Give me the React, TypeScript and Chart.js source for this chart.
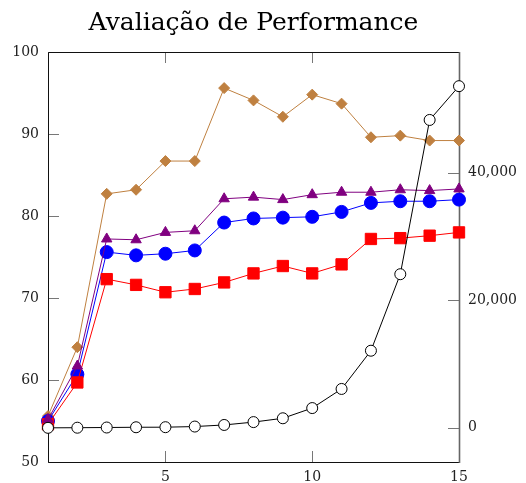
import React, { useEffect, useRef } from 'react';
import { Chart, registerables } from 'chart.js';

Chart.register(...registerables);

const TITLE = 'Avaliação de Performance';
const xValues = [1, 2, 3, 4, 5, 6, 7, 8, 9, 10, 11, 12, 13, 14, 15];
const blueValues = [55.0, 60.7, 75.6, 75.2, 75.4, 75.8, 79.2, 79.7, 79.8, 79.9, 80.5, 81.6, 81.8, 81.8, 82.0];
const redValues = [54.6, 59.7, 72.3, 71.6, 70.7, 71.1, 71.9, 73.0, 73.9, 73.0, 74.1, 77.2, 77.3, 77.6, 78.0];
const purpleValues = [55.2, 61.7, 77.2, 77.1, 78.0, 78.2, 82.1, 82.3, 82.0, 82.6, 82.9, 82.9, 83.2, 83.1, 83.3];
const brownValues = [55.6, 64.0, 82.7, 83.2, 86.7, 86.7, 95.6, 94.1, 92.1, 94.8, 93.7, 89.6, 89.8, 89.2, 89.2];
const blackValues = [0, 20, 50, 90, 100, 200, 450, 900, 1500, 3100, 6100, 12100, 24100, 48300, 53600];

const xTicks = [5, 10, 15];
const leftTicks = [50, 60, 70, 80, 90, 100];
const rightTicks = [0, 20000, 40000];
const xMin = 1;
const xMax = 15;
const leftMin = 50;
const leftMax = 100;
const rightMin = -5360;
const rightMax = 58960;

const SERIF = '"DejaVu Serif", serif';

const toPoints = (ys: number[]) => xValues.map((x, i) => ({ x, y: ys[i] }));

const titlePlugin = {
  id: 'centeredTitle',
  afterDraw(chart: any) {
    const { ctx, chartArea } = chart;
    ctx.save();
    ctx.fillStyle = '#000';
    ctx.font = `25px ${SERIF}`;
    ctx.textAlign = 'center';
    ctx.textBaseline = 'alphabetic';
    ctx.fillText(TITLE, (chartArea.left + chartArea.right) / 2, 30);
    ctx.restore();
  },
};

const framePlugin = {
  id: 'frame',
  beforeDatasetsDraw(chart: any) {
    const { ctx, chartArea, scales } = chart;
    const { left, right, top, bottom } = chartArea;
    const tl = 11;
    ctx.save();
    ctx.lineWidth = 1;
    ctx.beginPath();
    scales.x.ticks.forEach((t: any) => {
      const px = Math.round(scales.x.getPixelForValue(t.value)) + 0.5;
      ctx.moveTo(px, bottom);
      ctx.lineTo(px, bottom - tl);
      ctx.moveTo(px, top);
      ctx.lineTo(px, top + tl);
    });
    scales.y.ticks.forEach((t: any) => {
      const py = Math.round(scales.y.getPixelForValue(t.value)) + 0.5;
      ctx.moveTo(left, py);
      ctx.lineTo(left + tl, py);
    });
    scales.y2.ticks.forEach((t: any) => {
      const py = Math.round(scales.y2.getPixelForValue(t.value)) + 0.5;
      ctx.moveTo(right, py);
      ctx.lineTo(right - tl, py);
    });
    ctx.strokeStyle = '#777';
    ctx.stroke();
    ctx.strokeStyle = '#111';
    ctx.beginPath();
    ctx.moveTo(Math.round(right) + 0.5, top + 0.5);
    ctx.lineTo(Math.round(left) + 0.5, top + 0.5);
    ctx.lineTo(Math.round(left) + 0.5, Math.round(bottom) + 0.5);
    ctx.lineTo(Math.round(right) + 0.5, Math.round(bottom) + 0.5);
    ctx.stroke();
    ctx.strokeStyle = '#666';
    ctx.lineWidth = 1.6;
    ctx.beginPath();
    ctx.moveTo(Math.round(right) + 0.5, top);
    ctx.lineTo(Math.round(right) + 0.5, bottom + 1);
    ctx.stroke();
    ctx.restore();
  },
};

export default function App() {
  const canvasRef = useRef<HTMLCanvasElement | null>(null);

  useEffect(() => {
    const canvas = canvasRef.current;
    if (!canvas) return;
    const tickFont = { family: SERIF, size: 14 };
    const chart = new Chart(canvas, {
      type: 'line',
      data: {
        datasets: [
          {
            label: 'black',
            data: toPoints(blackValues),
            yAxisID: 'y2',
            borderColor: '#000',
            backgroundColor: '#fff',
            borderWidth: 1,
            pointStyle: 'circle',
            pointRadius: 5.5,
            pointBorderWidth: 1,
            pointBorderColor: '#000',
            pointBackgroundColor: '#fff',
            order: 0,
            clip: false,
          },
          {
            label: 'purple',
            data: toPoints(purpleValues),
            yAxisID: 'y',
            borderColor: '#800080',
            backgroundColor: '#800080',
            borderWidth: 1,
            pointStyle: 'triangle',
            pointRadius: 6,
            pointBorderWidth: 1,
            order: 1,
            clip: false,
          },
          {
            label: 'red',
            data: toPoints(redValues),
            yAxisID: 'y',
            borderColor: '#ff0000',
            backgroundColor: '#ff0000',
            borderWidth: 1,
            pointStyle: 'rect',
            pointRadius: 8,
            pointBorderWidth: 1,
            order: 2,
            clip: false,
          },
          {
            label: 'blue',
            data: toPoints(blueValues),
            yAxisID: 'y',
            borderColor: '#0000ff',
            backgroundColor: '#0000ff',
            borderWidth: 1,
            pointStyle: 'circle',
            pointRadius: 6.5,
            pointBorderWidth: 1,
            order: 3,
            clip: false,
          },
          {
            label: 'brown',
            data: toPoints(brownValues),
            yAxisID: 'y',
            borderColor: '#bf8040',
            backgroundColor: '#bf8040',
            borderWidth: 1,
            pointStyle: 'rectRot',
            pointRadius: 5.5,
            pointBorderWidth: 1,
            order: 4,
            clip: false,
          },
        ],
      },
      options: {
        responsive: false,
        animation: false,
        devicePixelRatio: 1,
        layout: { padding: { left: 0, right: 0, top: 52, bottom: 0 } },
        plugins: {
          legend: { display: false },
          tooltip: { enabled: false },
          title: { display: false },
        },
        scales: {
          x: {
            type: 'linear',
            position: 'bottom',
            min: xMin,
            max: xMax,
            grid: { display: false, drawTicks: false },
            border: { display: false },
            afterBuildTicks: (s: any) => {
              s.ticks = xTicks.map((v) => ({ value: v }));
            },
            afterFit: (s: any) => {
              s.height = 21;
            },
            ticks: {
              font: tickFont,
              color: '#222',
              padding: 7,
              maxRotation: 0,
              autoSkip: false,
              callback: (v: any) => String(v),
            },
          },
          y: {
            type: 'linear',
            position: 'left',
            min: leftMin,
            max: leftMax,
            grid: { display: false, drawTicks: false },
            border: { display: false },
            afterBuildTicks: (s: any) => {
              s.ticks = leftTicks.map((v) => ({ value: v }));
            },
            afterFit: (s: any) => {
              s.width = 48;
            },
            ticks: {
              font: tickFont,
              color: '#222',
              padding: 9,
              autoSkip: false,
              callback: (v: any) => String(v),
            },
          },
          y2: {
            type: 'linear',
            position: 'right',
            min: rightMin,
            max: rightMax,
            grid: { display: false, drawTicks: false },
            border: { display: false },
            afterBuildTicks: (s: any) => {
              s.ticks = rightTicks.map((v) => ({ value: v }));
            },
            afterFit: (s: any) => {
              s.width = 67;
            },
            ticks: {
              font: tickFont,
              color: '#222',
              padding: 9,
              autoSkip: false,
              callback: (v: any) => Number(v).toLocaleString('en-US'),
            },
          },
        },
      },
      plugins: [framePlugin, titlePlugin],
    } as any);
    return () => chart.destroy();
  }, []);

  return (
    <div style={{ position: 'fixed', left: 0, top: 0, width: 526, height: 483, background: '#fff' }}>
      <canvas ref={canvasRef} width={526} height={483} style={{ width: 526, height: 483, display: 'block' }} />
    </div>
  );
}
